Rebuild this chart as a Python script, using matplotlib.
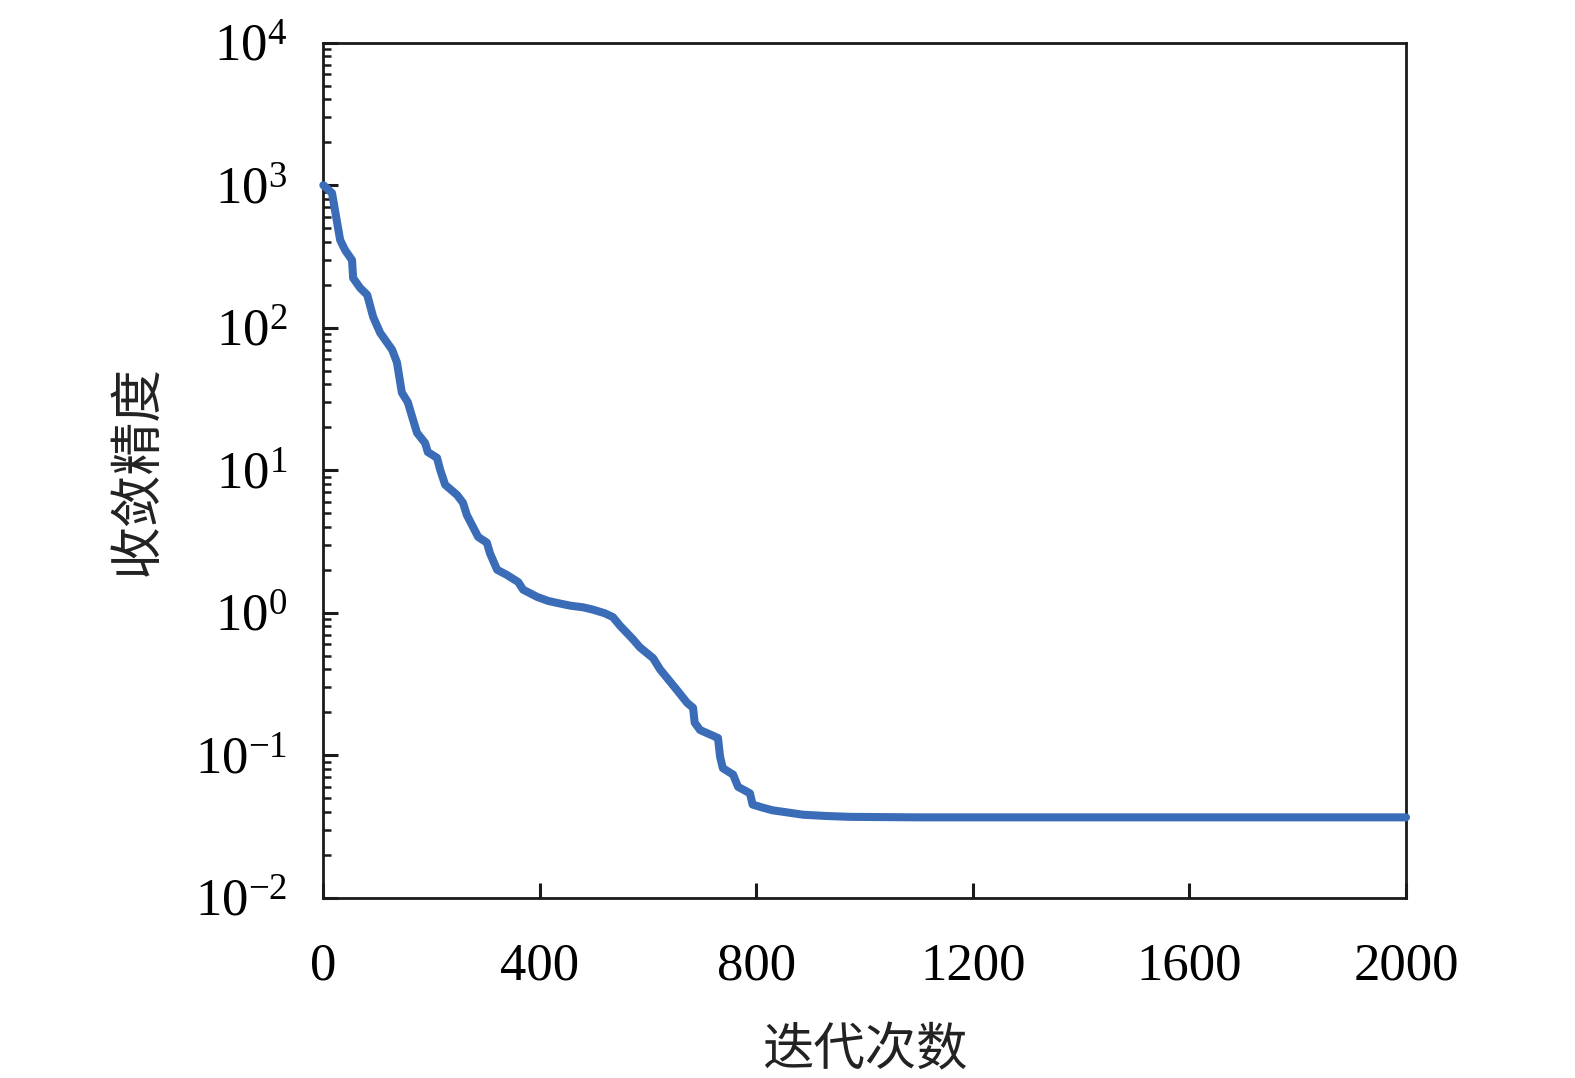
import matplotlib
matplotlib.use("Agg")
import matplotlib.pyplot as plt
from matplotlib.ticker import LogLocator, FixedLocator, NullFormatter

# iteration number vs. convergence accuracy
iters = [0, 16, 31, 40, 53, 55, 68, 81, 92, 105, 127, 136, 145, 156, 164,
         173, 188, 193, 210, 216, 225, 247, 258, 265, 286, 302, 308, 321,
         339, 360, 369, 395, 415, 432, 456, 480, 498, 520, 535, 548, 572,
         585, 609, 622, 653, 672, 683, 686, 696, 729, 733, 738, 757, 766,
         788, 793, 810, 830, 860, 886, 930, 973, 1100, 2000]
accuracy = [1000, 881, 413, 351, 298, 223, 190, 170, 119, 92, 70, 57, 35,
            30, 23.7, 18.3, 15.5, 13.4, 12.2, 10.0, 7.9, 6.7, 5.9, 4.85,
            3.4, 3.1, 2.6, 2.0, 1.84, 1.64, 1.45, 1.29, 1.21, 1.17, 1.12,
            1.09, 1.05, 0.99, 0.93, 0.81, 0.65, 0.57, 0.48, 0.40, 0.287,
            0.233, 0.215, 0.169, 0.150, 0.132, 0.097, 0.081, 0.073, 0.060,
            0.054, 0.045, 0.043, 0.041, 0.0395, 0.0382, 0.0374, 0.0369,
            0.0366, 0.0366]

x_ticks = [0, 400, 800, 1200, 1600, 2000]
x_label = "迭代次数"
y_label = "收敛精度"

plt.rcParams['font.family'] = ['Liberation Serif', 'DejaVu Serif']
plt.rcParams['mathtext.fontset'] = 'stix'

fig = plt.figure(figsize=(15.75, 10.78), dpi=100)
ax = fig.add_axes([0.2053, 0.1673, 0.6874, 0.7931])

ax.plot(iters, accuracy, color='#3b6cb7', lw=5.8, solid_capstyle='round',
        solid_joinstyle='round', clip_on=False, zorder=3)

ax.set_yscale('log')
ax.set_xlim(0, 2000)
ax.set_ylim(1e-2, 1e4)
ax.xaxis.set_major_locator(FixedLocator(x_ticks))
ax.yaxis.set_major_locator(LogLocator(base=10, numticks=10))
ax.yaxis.set_minor_locator(LogLocator(base=10, subs=range(2, 10), numticks=20))
ax.yaxis.set_minor_formatter(NullFormatter())

for sp in ax.spines.values():
    sp.set_linewidth(2.0)
    sp.set_color('#1a1a1a')

ax.tick_params(axis='both', which='major', direction='in', length=11,
               width=2.2, labelsize=38, color='#1a1a1a')
ax.tick_params(axis='y', which='minor', direction='in', length=6, width=1.8,
               color='#1a1a1a')
ax.tick_params(axis='y', pad=26)
ax.tick_params(axis='x', pad=32)

ax.set_xlabel(x_label, family=['Noto Sans CJK SC'], fontsize=37,
              fontweight='light', labelpad=24, color='#222222')
ax.set_ylabel(y_label, family=['Noto Sans CJK SC'], fontsize=38,
              fontweight='light', labelpad=22, color='#222222')

fig.savefig("out.png", dpi=100)
